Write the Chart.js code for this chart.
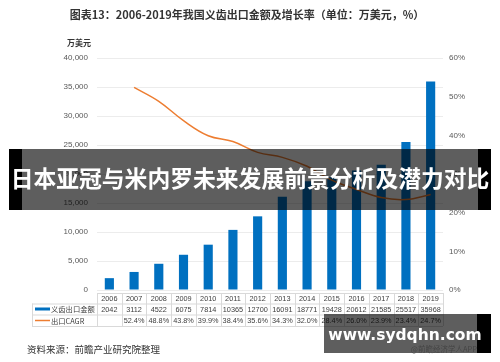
<!DOCTYPE html>
<html>
<head>
<meta charset="utf-8">
<script src="https://cdn.jsdelivr.net/npm/chart.js@4/dist/chart.umd.min.js"></script>
<style>
  html, body { margin: 0; padding: 0; background: #fff; }
  #wrap { position: relative; width: 500px; height: 362px; overflow: hidden; font-family: "Noto Sans CJK SC", "Noto Sans", sans-serif; }
  #chart { position: absolute; left: 0; top: 0; }
  .title { position: absolute; left: 0; width: 494px; top: 6px; text-align: center; font-size: 11px; font-weight: bold; color: #333; }
  .unit { position: absolute; left: 67px; top: 37px; font-size: 8px; font-weight: bold; color: #333; }
  .source { position: absolute; left: 27px; top: 342px; font-size: 9.5px; color: #333; }
  .banner { position: absolute; left: 9px; top: 149px; width: 482px; height: 61px; background: rgba(0,0,0,0.63); }
  .banner .edge { position: absolute; top: 0; width: 13px; height: 100%; background: #000; }
  .banner span { position: absolute; left: 0; width: 482px; top: 14px; text-align: center; font-size: 22.8px; font-weight: bold; color: #fff; white-space: nowrap; line-height: 30px; }
  .site { position: absolute; left: 324px; top: 314px; width: 167px; height: 39px; background: rgba(0,0,0,0.63); }
  .site .edge { position: absolute; right: 0; top: 0; width: 14px; height: 100%; background: #000; }
  .site .url { position: absolute; left: 0; width: 162px; top: 12px; text-align: center; font-family: "DejaVu Sans", sans-serif; font-size: 15.5px; line-height: 18px; font-weight: bold; color: #fff; white-space: nowrap; }
  .site .app { position: absolute; right: 14px; top: 30px; font-size: 7.5px; line-height: 9px; color: #444; white-space: nowrap; }
</style>
</head>
<body>
<div id="wrap">
  <canvas id="chart" width="500" height="362"></canvas>
  <div class="title">图表13：2006-2019年我国义齿出口金额及增长率（单位：万美元，%）</div>
  <div class="unit">万美元</div>
  <div class="source">资料来源：前瞻产业研究院整理</div>
  <div class="banner"><div class="edge" style="left:0"></div><div class="edge" style="right:0"></div><span>日本亚冠与米内罗未来发展前景分析及潜力对比</span></div>
  <div class="site"><div class="edge"></div><div class="url">www.sydqhn.com</div><div class="app">@前瞻经济学人APP</div></div>
</div>
<script>
// Données
const years = ['2006', '2007', '2008', '2009', '2010', '2011', '2012', '2013', '2014', '2015', '2016', '2017', '2018', '2019'];
const exportValues = [2042, 3112, 4522, 6075, 7814, 10365, 12700, 16091, 18771, 19428, 20612, 21585, 25517, 35968];
const cagrValues = [null, 52.4, 48.8, 43.8, 39.9, 38.4, 35.6, 34.3, 32.0, 28.4, 26.0, 23.9, 23.4, 24.7];
const barLabel = '义齿出口金额';
const lineLabel = '出口CAGR';

const BLUE = '#0070c0';
const ORANGE = '#ed7d31';
const GRID = '#d9d9d9';

// Tableau de données sous l'axe
const tablePlugin = {
    id: 'dataTable',
    afterDraw(chart) {
        const ctx = chart.ctx;
        const x = chart.scales.x;
        const area = chart.chartArea;
        const step = x.getPixelForValue(1) - x.getPixelForValue(0);
        const left = 32;
        const colLeft = area.left;
        const right = area.right;
        const rows = [293, 303.5, 314.5, 326];

        ctx.save();
        ctx.strokeStyle = GRID;
        ctx.lineWidth = 1;
        ctx.beginPath();
        ctx.moveTo(colLeft, rows[0] + 0.5); ctx.lineTo(right, rows[0] + 0.5);
        for (let r = 1; r < rows.length; r++) {
            ctx.moveTo(left, rows[r] + 0.5); ctx.lineTo(right, rows[r] + 0.5);
        }
        ctx.moveTo(left + 0.5, rows[1]); ctx.lineTo(left + 0.5, rows[3]);
        for (let i = 0; i <= years.length; i++) {
            const px = Math.round(colLeft + i * step) + 0.5;
            ctx.moveTo(px, rows[0]); ctx.lineTo(px, rows[3]);
        }
        ctx.stroke();

        ctx.font = '7.3px "Liberation Sans", Arial, sans-serif';
        ctx.fillStyle = '#404040';
        ctx.textAlign = 'center';
        ctx.textBaseline = 'middle';
        years.forEach((y, i) => {
            const cx = x.getPixelForValue(i);
            ctx.fillText(y, cx, (rows[0] + rows[1]) / 2 + 0.5);
            ctx.fillText(String(exportValues[i]), cx, (rows[1] + rows[2]) / 2 + 0.5);
            if (cagrValues[i] !== null) {
                ctx.fillText(cagrValues[i].toFixed(1) + '%', cx, (rows[2] + rows[3]) / 2 + 0.5);
            }
        });

        // Légende dans la première colonne
        ctx.fillStyle = BLUE;
        ctx.fillRect(35, 307.5, 15, 3);
        ctx.strokeStyle = ORANGE;
        ctx.lineWidth = 1.5;
        ctx.beginPath();
        ctx.moveTo(35, 320.5); ctx.lineTo(50, 320.5);
        ctx.stroke();
        ctx.fillStyle = '#404040';
        ctx.textAlign = 'left';
        ctx.font = '7.3px "Noto Sans CJK SC", sans-serif';
        ctx.fillText(barLabel, 51, (rows[1] + rows[2]) / 2 + 0.5);
        ctx.fillText(lineLabel, 51, (rows[2] + rows[3]) / 2 + 0.5);
        ctx.restore();
    }
};

const tickFont = { family: '"Liberation Sans", Arial, sans-serif', size: 8 };

new Chart(document.getElementById('chart'), {
    data: {
        labels: years,
        datasets: [{
            type: 'line',
            label: lineLabel,
            data: cagrValues,
            yAxisID: 'y1',
            borderColor: ORANGE,
            borderWidth: 1.5,
            pointRadius: 0,
            tension: 0.4,
            spanGaps: false,
            order: 0
        }, {
            type: 'bar',
            label: barLabel,
            data: exportValues,
            yAxisID: 'y',
            backgroundColor: BLUE,
            barPercentage: 0.37,
            categoryPercentage: 1,
            order: 1
        }]
    },
    options: {
        responsive: false,
        animation: false,
        layout: { padding: { left: 0, right: 0, top: 58, bottom: 72 } },
        plugins: { legend: { display: false }, tooltip: { enabled: false } },
        scales: {
            x: {
                grid: { display: false },
                border: { display: false },
                ticks: { display: false },
                afterFit(scale) { scale.height = 0; }
            },
            y: {
                position: 'left',
                min: 0, max: 40000,
                ticks: {
                    stepSize: 5000, padding: 9, color: '#595959', font: tickFont,
                    callback: v => v.toLocaleString('en-US')
                },
                grid: { color: '#ececec', drawTicks: false },
                border: { display: false },
                afterFit(scale) { scale.width = 97; }
            },
            y1: {
                position: 'right',
                min: 0, max: 60,
                ticks: {
                    stepSize: 10, padding: 6, color: '#595959', font: tickFont,
                    callback: v => v + '%'
                },
                grid: { display: false, drawTicks: false },
                border: { display: false },
                afterFit(scale) { scale.width = 57; }
            }
        }
    },
    plugins: [tablePlugin]
});
</script>
</body>
</html>
